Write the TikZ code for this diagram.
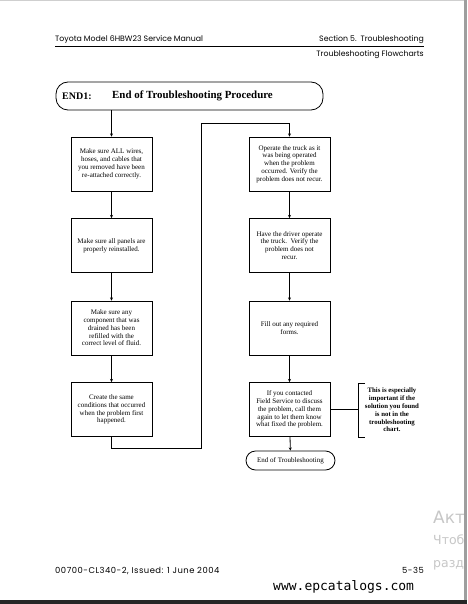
\documentclass[tikz,border=0pt]{standalone}
\usepackage{fontspec}
\setmainfont{Liberation Serif}
\newfontfamily\headfont{Poppins}
\newfontfamily\footfont[LetterSpace=6]{Poppins}
\newfontfamily\urlfont{DejaVu Sans Mono}
\newfontfamily\winfont{DejaVu Sans}
\usepackage{xcolor}
\usetikzlibrary{arrows.meta,positioning,shapes}
\definecolor{pageedge}{gray}{0.62}
\definecolor{winmark}{gray}{0.78}

\begin{document}
\begin{tikzpicture}[x = 1pt, y = -1pt, every node/.style={anchor = center, inner sep = 0pt},
  stepbox/.style={draw, line width = .8pt, minimum width = 81pt, minimum height = 54pt, align = center, font = \fontsize{7}{7.8}\selectfont},
  flow/.style={line width = .8pt, -{Stealth[length = 3.2pt, width = 3pt]}},
  headtext/.style={font = \headfont\fontsize{7.8}{9}\selectfont},
  foottext/.style={font = \footfont\fontsize{8.4}{10}\selectfont}]
\useasboundingbox (0,0) rectangle (467,604);
\fill[white] (0,0) rectangle (467,604);
\fill[pageedge!50] (0,0) rectangle (467,1.2);
\fill[pageedge] (463.5,0) rectangle (467,604);
\fill[black!85] (0,600) rectangle (467,604);

\node[headtext, anchor = base west] (manual) at (55,41.5) {Toyota Model 6HBW23 Service Manual};
\node[headtext, anchor = base east] (section) at (424,41.5) {Section 5.\enspace Troubleshooting};
\draw[line width = .8pt] (55,46.3) -- (424,46.3);
\node[headtext, anchor = base east] (chapter) at (424,56.7) {Troubleshooting Flowcharts};

\node[draw, line width = .8pt, rounded corners = 12pt, minimum width = 267pt, minimum height = 28pt] (title) at (189.5,96) {};
\node[anchor = west, font = \fontsize{10}{12}\selectfont\bfseries] (code) at (62,96) {END1:};
\node[anchor = west, font = \fontsize{10.9}{12}\selectfont\bfseries] (heading) at (112,96) {End of Troubleshooting Procedure};

\node[stepbox] (wires) at (111.5,164) {Make sure ALL wires,\\hoses, and cables that\\you removed have been\\re-attached correctly.};
\node[stepbox] (panels) at (111.5,245.5) {Make sure all panels are\\properly reinstalled.};
\node[stepbox] (fluid) at (111.5,328) {Make sure any\\component that was\\drained has been\\refilled with the\\correct level of fluid.};
\node[stepbox] (repeat) at (111.5,409.5) {Create the same\\conditions that occurred\\when the problem first\\happened.};

\node[stepbox] (operate) at (289.5,164) {Operate the truck as it\\was being operated\\when the problem\\occurred. Verify the\\problem does not recur.};
\node[stepbox] (driver) at (289.5,245.5) {Have the driver operate\\the truck.\enspace Verify the\\problem does not\\recur.};
\node[stepbox] (forms) at (289.5,328) {Fill out any required\\forms.};
\node[stepbox] (service) at (289.5,409.5) {If you contacted\\Field Service to discuss\\the problem, call them\\again to let them know\\what fixed the problem.};
\node[draw, line width = .8pt, rounded corners = 9.5pt, minimum width = 89pt, minimum height = 19pt, font = \fontsize{7}{7.8}\selectfont] (done) at (290.5,460.5) {End of Troubleshooting};

\node[align = center, font = \fontsize{6.8}{7.8}\selectfont\bfseries] (note) at (392,410) {This is especially\\important if the\\solution you found\\is not in the\\troubleshooting\\chart.};

\draw[flow] (wires.north |- title.south) -- (wires.north);
\draw[flow] (wires) -- (panels);
\draw[flow] (panels) -- (fluid);
\draw[flow] (fluid) -- (repeat);
\coordinate (lowturn) at (201,448);
\coordinate (topturn) at (201,123);
\draw[flow] (repeat.south) |- (lowturn) -- (topturn) -| (operate.north);
\draw[flow] (operate) -- (driver);
\draw[flow] (driver) -- (forms);
\draw[flow] (forms) -- (service);
\draw[flow] (service) -- (done);
\coordinate (notejoin) at (358,409.5);
\draw[line width = .8pt] (service.east) -- (notejoin);
\draw[line width = .8pt] (365,383) -- (358,383) -- (358,437) -- (365,437);

\node[foottext, anchor = base west] (issue) at (55,573.3) {00700-CL340-2, Issued: 1 June 2004};
\node[foottext, anchor = base east] (page) at (424,573.3) {5-35};
\node[anchor = base west, font = \urlfont\fontsize{13}{15}\selectfont] (site) at (273,590.5) {www.epcatalogs.com};

\begin{scope}
\clip (420,490) rectangle (463.5,580);
\node[anchor = base west, text = winmark, font = \winfont\fontsize{17}{20}\selectfont] (win1) at (433,523) {Акт};
\node[anchor = base west, text = winmark, font = \winfont\fontsize{12.5}{15}\selectfont] (win2) at (433,544) {Чтоб};
\node[anchor = base west, text = winmark, font = \winfont\fontsize{12.5}{15}\selectfont] (win3) at (433,567) {разд};
\end{scope}
\end{tikzpicture}
\end{document}
